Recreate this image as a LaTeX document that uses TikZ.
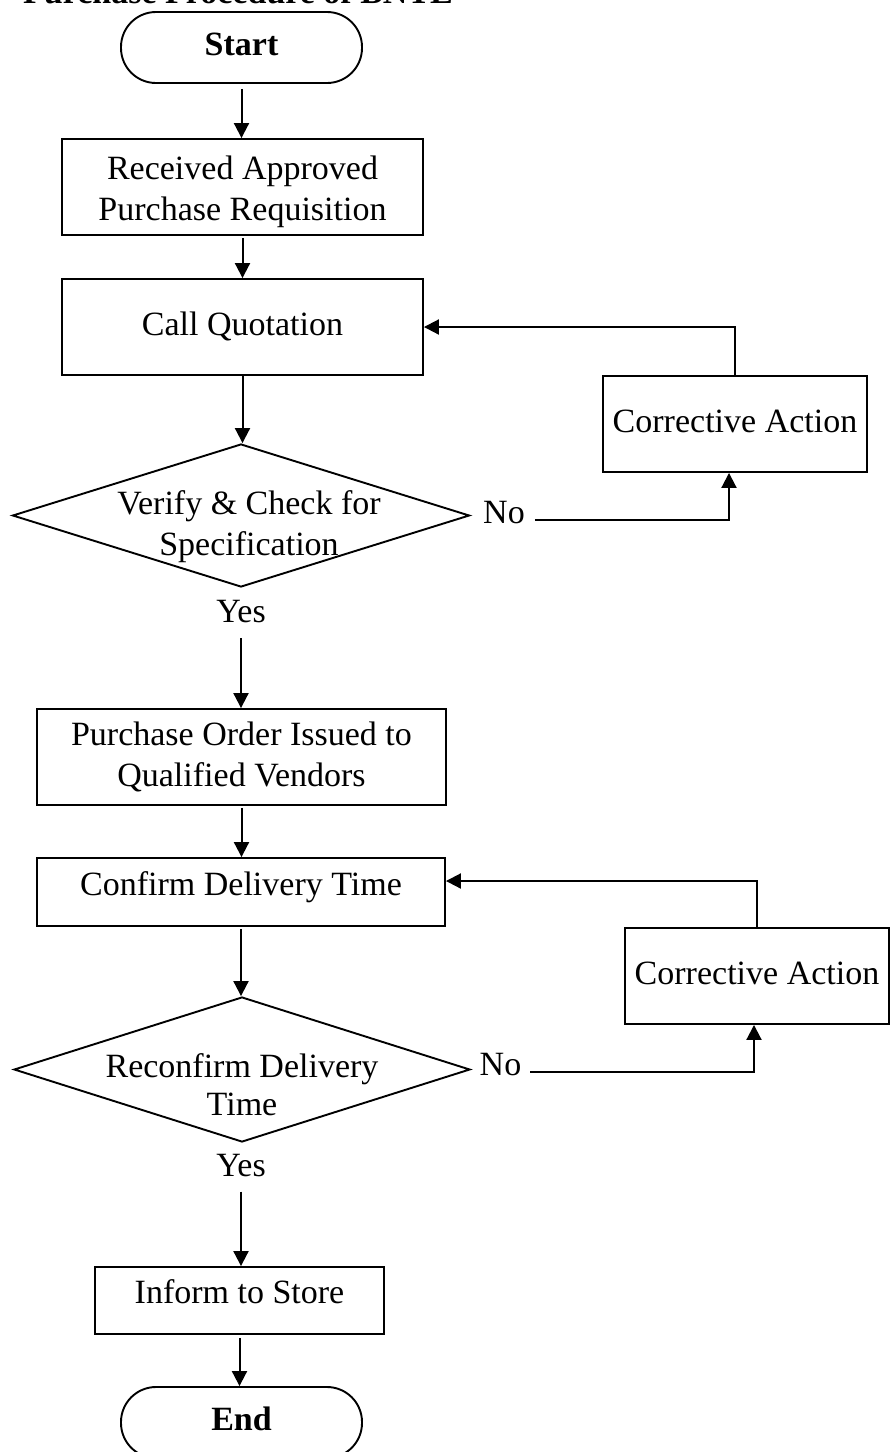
\documentclass[tikz,border=0pt]{standalone}
\usepackage{fontspec}
\setmainfont{Liberation Serif}
\usetikzlibrary{arrows.meta,shapes.geometric}
\begin{document}
\begin{tikzpicture}[x=1pt,y=-1pt,
  every node/.style={font=\fontsize{34}{41}\selectfont},
  box/.style={draw, line width=1.9pt, rectangle, inner sep=0pt, align=center},
  sl/.style={text height=24pt, text depth=8pt},
  lo/.style={text height=24pt, text depth=18pt},
  term/.style={box, rounded corners=35pt, minimum width=241pt, minimum height=71pt,
    font=\fontsize{34}{41}\selectfont\bfseries, sl},
  dec/.style={draw, line width=1.9pt, diamond, inner sep=0pt},
  lbl/.style={inner sep=0pt},
  tx/.style={inner sep=6pt},
  arr/.style={line width=2pt, -{Triangle[length=15pt,width=15pt]}}
]
\useasboundingbox (0,0) rectangle (890,1452);

\node[anchor=base west, inner sep=0pt, font=\fontsize{34}{41}\selectfont\bfseries] (title) at (23,3) {Purchase Procedure of BNTL};

\node[term] (start) at (241.5,47.5) {Start};
\node[box, minimum width=361pt, minimum height=96pt] (recv) at (242.5,187)
  {\rule{0pt}{34pt}Received Approved\\Purchase Requisition};
\node[box, sl, minimum width=361pt, minimum height=96pt] (quot) at (242.5,327) {Call Quotation};
\node[dec, minimum width=457pt, minimum height=143pt,
  label={[lbl, xshift=8pt, yshift=-11pt, align=center]center:{Verify \& Check for\\Specification}}]
  (chk) at (241,515.5) {};
\node[tx, anchor=base] (no1) at (504,523) {No};
\node[box, sl, minimum width=264pt, minimum height=96pt] (ca1) at (735,424) {Corrective Action};
\node[tx, anchor=base] (yes1) at (241,622.5) {Yes};

\node[box, minimum width=409pt, minimum height=96pt] (po) at (241.5,757)
  {Purchase Order Issued to\\Qualified Vendors};
\node[box, lo, minimum width=408pt, minimum height=68pt] (conf) at (241,892) {Confirm Delivery Time};
\node[box, sl, minimum width=264pt, minimum height=96pt] (ca2) at (757,976) {Corrective Action};
\node[dec, minimum width=456pt, minimum height=145pt,
  label={[lbl, yshift=-15pt, align=center, font=\fontsize{34}{38}\selectfont]center:{Reconfirm Delivery\\Time}}]
  (rec) at (242,1069.5) {};
\node[tx, anchor=base] (no2) at (500.5,1075) {No};
\node[tx, anchor=base] (yes2) at (241,1176) {Yes};
\node[box, lo, minimum width=289pt, minimum height=67pt] (inf) at (239.5,1300.5) {Inform to Store};
\node[term] (end) at (241.5,1422.5) {End};

\draw[arr, shorten <=5pt] (start.south) -- (start.south |- recv.north);
\draw[arr, shorten <=2pt] (recv.south) -- (recv.south |- quot.north);
\draw[arr] (quot.south) -- (quot.south |- chk.north);
\draw[arr, shorten <=9pt] (yes1.south) -- (yes1.south |- po.north);
\draw[arr, shorten <=2pt] (po.south) -- (po.south |- conf.north);
\draw[arr, shorten <=2pt] (conf.south) -- (conf.south |- rec.north);
\draw[arr, shorten <=9pt] (yes2.south) -- (yes2.south |- inf.north);
\draw[arr, shorten <=3pt] (inf.south) -- (inf.south |- end.north);

\draw[arr, shorten <=4pt] ([yshift=-8pt]no1.east) -| ([xshift=-6pt]ca1.south);
\draw[arr, shorten <=3pt] ([yshift=-8pt]no2.east) -| ([xshift=-3pt]ca2.south);
\draw[arr] (ca1.north) |- (quot.east);
\draw[arr] (ca2.north) |- ([yshift=11pt]conf.east);
\end{tikzpicture}
\end{document}
